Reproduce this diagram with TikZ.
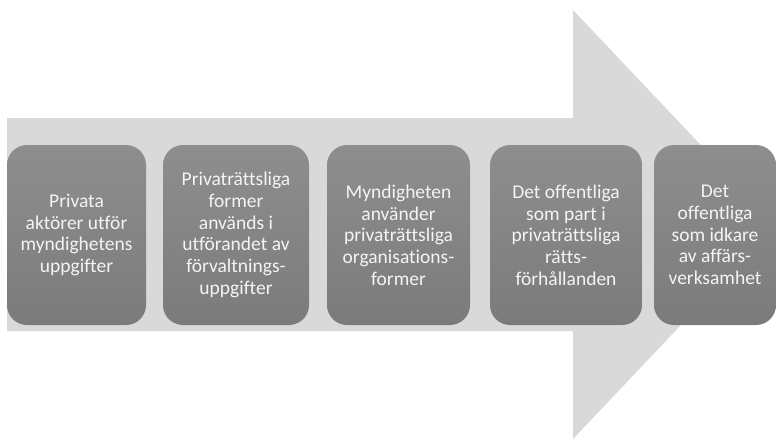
\documentclass[tikz,border=0pt]{standalone}
\usepackage{fontspec}
\setmainfont[Ligatures=NoCommon]{Carlito}
\usepackage{tikz}
\usetikzlibrary{positioning,calc}
\definecolor{arrowgray}{HTML}{D9D9D9}
\definecolor{boxtop}{HTML}{8E8E8E}
\definecolor{boxbottom}{HTML}{7B7B7B}
\definecolor{boxtext}{HTML}{F4F4F4}

\begin{document}
\begin{tikzpicture}[x=1pt, y=-1pt,
  stage/.style={rounded corners=20pt, top color=boxtop, bottom color=boxbottom,
    draw=none, text=boxtext, align=center, inner sep=0pt,
    minimum height=180pt, font=\fontsize{19.5}{21.7}\selectfont}]

\useasboundingbox (0,0) rectangle (776,440);

  % Big background arrow
\fill[arrowgray] (7,118) -- (573,118) -- (573,10) -- (776,224.5) -- (573,439) -- (573,331) -- (7,331) -- cycle;

  % Define the stages
\node[stage, minimum width=139pt] (s1) at (76.5,235) {Privata\\aktörer utför\\myndighetens\\uppgifter};
\node[stage, minimum width=146pt] (s2) at (236,235) {Privaträttsliga\\former\\används i\\utförandet av\\förvaltnings-\\uppgifter};
\node[stage, minimum width=143pt] (s3) at (398.5,235) {Myndigheten\\använder\\privaträttsliga\\organisations-\\former};
\node[stage, minimum width=152pt] (s4) at (566,235) {Det offentliga\\som part i\\privaträttsliga\\rätts-\\förhållanden};
\node[stage, minimum width=122pt] (s5) at (715,235) {Det\\offentliga\\som idkare\\av affärs-\\verksamhet};

\end{tikzpicture}
\end{document}
